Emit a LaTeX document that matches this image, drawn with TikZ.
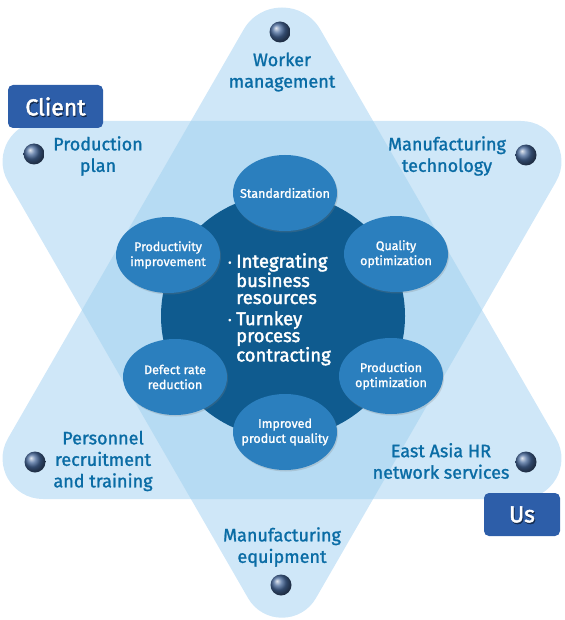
\documentclass[tikz,border=0pt]{standalone}
\usepackage{fontspec}
\setmainfont{Fira Sans}
\newfontfamily\medfont{Fira Sans}[FakeBold=1.3]
\newfontfamily\heavyfont{Fira Sans}[FakeBold=2]
\usetikzlibrary{shadows,calc,shapes.geometric}
\definecolor{lightbg}{HTML}{CFE7F8}
\definecolor{overlapbg}{HTML}{B6DBF3}
\definecolor{darkcirc}{HTML}{0F5B8F}
\definecolor{ellc}{HTML}{2B7FBE}
\definecolor{labc}{HTML}{0A6CA5}
\definecolor{boxc}{HTML}{2D5EA9}
\definecolor{ballc}{HTML}{46689A}
\tikzset{
  lab/.style={text=labc, align=center, font=\medfont\fontsize{18}{21.5}\selectfont},
  ell/.style={ellipse, fill=ellc, minimum width=104pt, minimum height=76pt, inner sep=0pt,
     drop shadow={opacity=0.25, shadow xshift=1pt, shadow yshift=-1.5pt}},
  elltext/.style={text=white, align=center, font=\medfont\fontsize{12.5}{15}\selectfont, inner sep=0pt},
  ballst/.style={circle, minimum size=21pt, inner sep=0pt, shading=ball, ball color=ballc},
  tagbox/.style={rounded corners=5pt, fill=boxc, minimum height=43pt, inner sep=0pt},
  tagtext/.style={text=white, font=\heavyfont\fontsize{23}{23}\selectfont, inner sep=0pt},
  tagshadow/.style={text=black, opacity=0.45, font=\heavyfont\fontsize{23}{23}\selectfont, inner sep=0pt},
  ctext/.style={text=white, align=left, font=\heavyfont\fontsize{18.5}{17}\selectfont, inner sep=0pt}
}
\newcommand{\rtri}[6]{% A B C dA dB dC
  ($(#1)!#4!(#3)$) .. controls ($(#1)!0.556*#4!(#3)$) and ($(#1)!0.556*#4!(#2)$) .. ($(#1)!#4!(#2)$)
  -- ($(#2)!#5!(#1)$) .. controls ($(#2)!0.556*#5!(#1)$) and ($(#2)!0.556*#5!(#3)$) .. ($(#2)!#5!(#3)$)
  -- ($(#3)!#6!(#2)$) .. controls ($(#3)!0.556*#6!(#2)$) and ($(#3)!0.556*#6!(#1)$) .. ($(#3)!#6!(#1)$)
  -- cycle}
\newcommand{\bul}{\makebox[8pt][l]{\raisebox{1.5pt}{\scalebox{0.55}{\textbullet}}}}
\begin{document}
\begin{tikzpicture}[x=1pt,y=-1pt]
\useasboundingbox (0,0) rectangle (564,620);
\coordinate (UA) at (282,-37);
\coordinate (UB) at (591,499);
\coordinate (UC) at (-27,499);
\coordinate (DA) at (282,657);
\coordinate (DB) at (-27,121);
\coordinate (DC) at (591,121);
% triangles
\fill[lightbg] \rtri{UA}{UB}{UC}{77pt}{70pt}{70pt};
\fill[lightbg] \rtri{DA}{DB}{DC}{68pt}{70pt}{70pt};
\begin{scope}
\clip \rtri{UA}{UB}{UC}{77pt}{70pt}{70pt};
\fill[overlapbg] \rtri{DA}{DB}{DC}{68pt}{70pt}{70pt};
\end{scope}
% center
\node[circle, fill=darkcirc, minimum size=244pt, inner sep=0pt] (core) at (283,316) {};
\node[ell] (std) at (285,193) {};
\node[ell] (qual) at (396,254) {};
\node[ell] (prod) at (168,255) {};
\node[ell] (defect) at (175,377) {};
\node[ell] (popt) at (391,376) {};
\node[ell] (impr) at (285,432) {};
\node[elltext] (stdt) at (std) {Standardization};
\node[elltext] (qualt) at (qual) {Quality\\optimization};
\node[elltext] (prodt) at (prod) {Productivity\\improvement};
\node[elltext] (defectt) at (defect) {Defect rate\\reduction};
\node[elltext] (popt-t) at (popt) {Production\\optimization};
\node[elltext] (imprt) at (impr) {Improved\\product quality};
% center text
\node[ctext, anchor=north west] (t1) at (228,253) {\bul Integrating\\\hspace*{8pt}business\\\hspace*{8pt}resources};
\node[ctext, anchor=north west] (t2) at (228,311) {\bul Turnkey\\\hspace*{8pt}process\\\hspace*{8pt}contracting};
% balls
\node[ballst] (b1) at (280,32) {};
\node[ballst] (b2) at (34,154) {};
\node[ballst] (b3) at (526,155) {};
\node[ballst] (b4) at (35,462) {};
\node[ballst] (b5) at (526,462) {};
\node[ballst] (b6) at (281,585) {};
% labels
\node[lab] (l1) at (282,72) {Worker\\management};
\node[lab] (l2) at (98,156) {Production\\plan};
\node[lab] (l3) at (447,156) {Manufacturing\\technology};
\node[lab] (l4) at (103,461) {Personnel\\recruitment\\and training};
\node[lab] (l5) at (441,461) {East Asia HR\\network services};
\node[lab] (l6) at (282,547) {Manufacturing\\equipment};
% tags
\node[tagbox, minimum width=95pt] (client) at (55.5,106.5) {};
\node[tagshadow] (clients) at (56.5,108) {Client};
\node[tagtext] (clientt) at (55.5,106.5) {Client};
\node[tagbox, minimum width=76pt] (us) at (522,514.5) {};
\node[tagshadow] (uss) at (523,516) {Us};
\node[tagtext] (ust) at (522,514.5) {Us};
\end{tikzpicture}
\end{document}
